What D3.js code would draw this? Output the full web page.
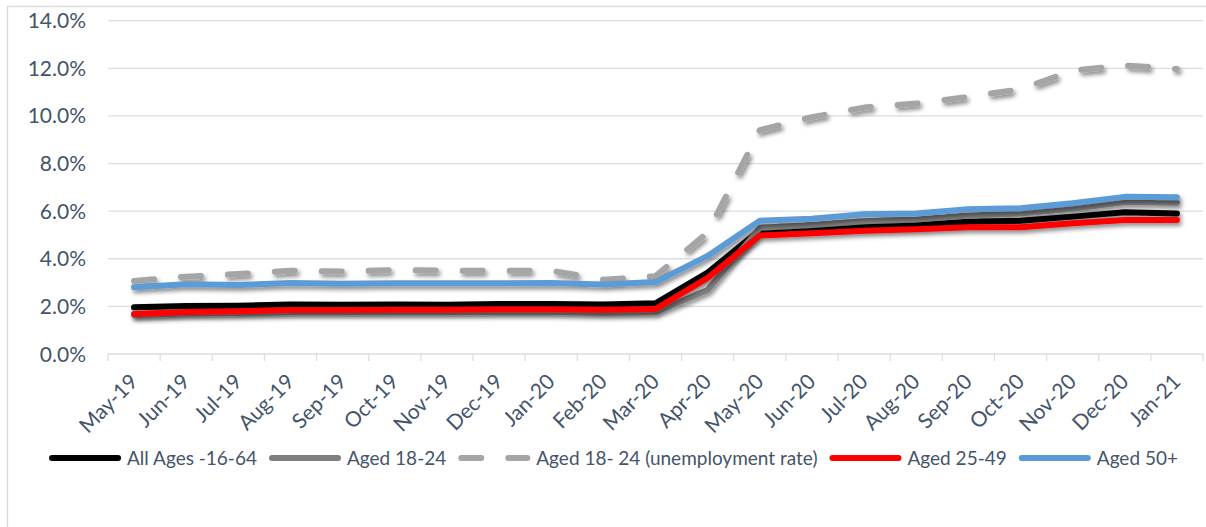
<!DOCTYPE html>
<html>
<head>
<meta charset="utf-8">
<script src="https://cdn.jsdelivr.net/npm/d3@7"></script>
<style>
  html, body { margin: 0; padding: 0; background: #fff; }
  svg { display: block; }
  text { font-family: Lato, "Open Sans", sans-serif; fill: #44546A; }
</style>
</head>
<body>
<svg id="chart" width="1206" height="527"></svg>
<script>
// Data
var months = ["May-19", "Jun-19", "Jul-19", "Aug-19", "Sep-19", "Oct-19", "Nov-19", "Dec-19", "Jan-20", "Feb-20", "Mar-20",
              "Apr-20", "May-20", "Jun-20", "Jul-20", "Aug-20", "Sep-20", "Oct-20", "Nov-20", "Dec-20", "Jan-21"];
var data_allAges = [1.96, 2.02, 2.03, 2.08, 2.07, 2.08, 2.07, 2.10, 2.10, 2.08, 2.13, 3.42, 5.20, 5.30, 5.38, 5.42, 5.56, 5.60, 5.77, 5.95, 5.90];
var data_aged1824 = [1.64, 1.70, 1.72, 1.75, 1.75, 1.75, 1.75, 1.76, 1.76, 1.72, 1.75, 2.69, 5.30, 5.42, 5.58, 5.65, 5.82, 5.90, 6.10, 6.38, 6.35];
var data_unemp1824 = [3.07, 3.25, 3.36, 3.50, 3.46, 3.53, 3.50, 3.49, 3.50, 3.12, 3.27, 5.10, 9.40, 9.95, 10.35, 10.52, 10.80, 11.12, 11.90, 12.12, 11.97];
var data_aged2549 = [1.68, 1.76, 1.80, 1.85, 1.85, 1.86, 1.86, 1.88, 1.88, 1.86, 1.89, 3.20, 4.98, 5.07, 5.18, 5.24, 5.32, 5.32, 5.49, 5.63, 5.63];
var data_aged50 = [2.80, 2.93, 2.90, 2.98, 2.95, 2.97, 2.97, 2.97, 2.98, 2.92, 3.02, 4.12, 5.60, 5.68, 5.87, 5.90, 6.08, 6.12, 6.33, 6.60, 6.58];
var yTicks = [0, 2, 4, 6, 8, 10, 12, 14];

var series = [
  {name: "All Ages -16-64", values: data_allAges, color: "#000000", dash: null},
  {name: "Aged 18-24", values: data_aged1824, color: "#7F7F7F", dash: null},
  {name: "Aged 18- 24 (unemployment rate)", values: data_unemp1824, color: "#A5A5A5", dash: "20,27"},
  {name: "Aged 25-49", values: data_aged2549, color: "#FF0000", dash: null},
  {name: "Aged 50+", values: data_aged50, color: "#5B9BD5", dash: null}
];

function draw() {
  var svg = d3.select("#chart");
  var plotLeft = 108, plotRight = 1203, plotTop = 20.7, plotBottom = 354;

  // outer chart border
  svg.append("rect")
     .attr("x", 7.5).attr("y", 6.5)
     .attr("width", 1210).attr("height", 540)
     .attr("fill", "none").attr("stroke", "#D9D9D9").attr("stroke-width", 1.3);

  var defs = svg.append("defs");
  var f = defs.append("filter").attr("id", "shadow")
              .attr("x", "-5%").attr("y", "-20%").attr("width", "110%").attr("height", "140%");
  f.append("feDropShadow").attr("dx", 2).attr("dy", 3).attr("stdDeviation", 2)
   .attr("flood-color", "#000").attr("flood-opacity", 0.45);

  var x = d3.scaleBand().domain(months).range([plotLeft, plotRight]).padding(0);
  var y = d3.scaleLinear().domain([0, 14]).range([plotBottom, plotTop]);

  // gridlines
  svg.append("g").selectAll("line")
     .data(yTicks.filter(function(d) { return d > 0; }))
     .enter().append("line")
     .attr("x1", plotLeft).attr("x2", plotRight)
     .attr("y1", function(d) { return y(d); }).attr("y2", function(d) { return y(d); })
     .attr("stroke", "#D9DEE5").attr("stroke-width", 1.3);

  // y axis labels
  svg.append("g").selectAll("text")
     .data(yTicks)
     .enter().append("text")
     .attr("x", 86).attr("y", function(d) { return y(d); })
     .attr("dy", "0.36em")
     .attr("text-anchor", "end")
     .style("font-size", "21px")
     .text(function(d) { return d3.format(".1f")(d) + "%"; });

  // x axis line and tick marks at category boundaries
  var xAxis = svg.append("g").attr("transform", "translate(0," + plotBottom + ")");
  xAxis.append("line").attr("x1", plotLeft).attr("x2", plotRight)
       .attr("stroke", "#D9DEE5").attr("stroke-width", 1.3);
  var bounds = months.map(function(d) { return x(d); }).concat([plotRight]);
  xAxis.selectAll(".tk").data(bounds).enter().append("line")
       .attr("class", "tk")
       .attr("x1", function(d) { return d; }).attr("x2", function(d) { return d; })
       .attr("y1", 0).attr("y2", 7)
       .attr("stroke", "#D9DEE5").attr("stroke-width", 1.3);

  // x labels, rotated
  svg.append("g").selectAll("text")
     .data(months)
     .enter().append("text")
     .attr("text-anchor", "end")
     .style("font-size", "21px")
     .attr("transform", function(d) {
       return "translate(" + (x(d) + x.bandwidth() / 2 + 5) + "," + 383 + ") rotate(-45)";
     })
     .text(function(d) { return d; });

  // lines
  var line = d3.line()
    .x(function(d, i) { return x(months[i]) + x.bandwidth() / 2; })
    .y(function(d) { return y(d); });

  svg.append("g").selectAll("path")
     .data(series)
     .enter().append("path")
     .attr("d", function(d) { return line(d.values); })
     .attr("fill", "none")
     .attr("stroke", function(d) { return d.color; })
     .attr("stroke-width", 6)
     .attr("stroke-linejoin", "round")
     .attr("stroke-linecap", "round")
     .attr("stroke-dasharray", function(d) { return d.dash; })
     .attr("filter", "url(#shadow)");

  // legend
  var legend = svg.append("g");
  var sampleLen = 72, legY = 458;
  var items = legend.selectAll("g").data(series).enter().append("g");
  items.append("line")
       .attr("x1", 3).attr("x2", sampleLen - 3)
       .attr("y1", legY).attr("y2", legY)
       .attr("stroke", function(d) { return d.color; })
       .attr("stroke-width", 6)
       .attr("stroke-linecap", "round")
       .attr("stroke-dasharray", function(d) { return d.dash; });
  items.append("text")
       .attr("x", sampleLen + 6).attr("y", legY).attr("dy", "0.36em")
       .style("font-size", "19px")
       .text(function(d) { return d.name; });

  var widths = [];
  items.each(function() { widths.push(d3.select(this).select("text").node().getComputedTextLength()); });
  var gap = 12;
  var total = d3.sum(widths) + widths.length * (sampleLen + 6) + (widths.length - 1) * gap;
  var cur = 613.5 - total / 2;
  items.attr("transform", function(d, i) {
    var t = "translate(" + cur + ",0)";
    cur += sampleLen + 6 + widths[i] + gap;
    return t;
  });
}

draw();
</script>
</body>
</html>
